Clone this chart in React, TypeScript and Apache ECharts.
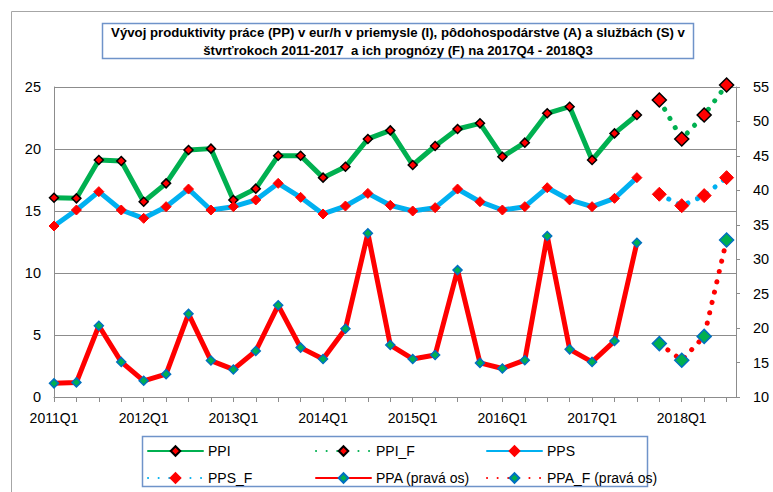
import React, { useEffect, useRef } from 'react';
import * as echarts from 'echarts';

const categories = [
  '2011Q1', '2011Q2', '2011Q3', '2011Q4',
  '2012Q1', '2012Q2', '2012Q3', '2012Q4',
  '2013Q1', '2013Q2', '2013Q3', '2013Q4',
  '2014Q1', '2014Q2', '2014Q3', '2014Q4',
  '2015Q1', '2015Q2', '2015Q3', '2015Q4',
  '2016Q1', '2016Q2', '2016Q3', '2016Q4',
  '2017Q1', '2017Q2', '2017Q3', '2017Q4',
  '2018Q1', '2018Q2', '2018Q3',
];

// actual values 2011Q1 - 2017Q3 (left axis)
const ppi = [16.07, 16.02, 19.11, 19.03, 15.75, 17.23, 19.92, 20.03, 15.89, 16.8, 19.46, 19.46, 17.69, 18.57, 20.81, 21.5, 18.71, 20.24, 21.61, 22.07, 19.38, 20.51, 22.88, 23.41, 19.11, 21.26, 22.74];
const pps = [13.79, 15.08, 16.56, 15.08, 14.41, 15.35, 16.77, 15.08, 15.35, 15.89, 17.23, 16.1, 14.76, 15.4, 16.42, 15.46, 15.0, 15.27, 16.77, 15.75, 15.08, 15.35, 16.88, 15.89, 15.35, 16.02, 17.69];
// right axis
const ppa = [11.98, 12.12, 20.34, 15.09, 12.35, 13.32, 22.07, 15.29, 14.0, 16.68, 23.31, 17.17, 15.52, 19.91, 33.76, 17.54, 15.52, 16.1, 28.42, 14.95, 14.14, 15.34, 33.37, 16.92, 15.09, 18.12, 32.4];

// forecasts 2017Q4 - 2018Q3
const forecastStart = 27;
const ppiF = [23.95, 20.81, 22.74, 25.16];
const ppsF = [16.35, 15.43, 16.24, 17.69];
const ppaF = [17.75, 15.34, 18.8, 32.79];

const leftTicks = { min: 0, max: 25, interval: 5 };
const rightTicks = { min: 10, max: 55, interval: 5 };

const GREEN = '#00B050';
const BLUE = '#00B0F0';
const RED = '#FF0000';
const DARKBLUE = '#0070C0';
const SANS = '"Liberation Sans", Arial, sans-serif';

const toPairs = (arr: number[], start: number) => arr.map((v, i) => [start + i, v]);

export default function App() {
  const ref = useRef<HTMLDivElement>(null);
  useEffect(() => {
    if (!ref.current) return;
    const chart = echarts.init(ref.current, null, { renderer: 'svg' });
    const dotted = [0.1, 10.5];
    const solidLine = (color: string) => ({ color, width: 5, cap: 'round' as const, join: 'round' as const });
    const dotLine = (color: string) => ({ color, width: 5, type: dotted, cap: 'round' as const });
    const legendPos = [
      { name: 'PPI', left: 147, top: 444 },
      { name: 'PPI_F', left: 315, top: 444 },
      { name: 'PPS', left: 486, top: 444 },
      { name: 'PPS_F', left: 147, top: 471 },
      { name: 'PPA (pravá os)', left: 315, top: 471 },
      { name: 'PPA_F (pravá os)', left: 486, top: 471 },
    ];
    chart.setOption({
      animation: false,
      backgroundColor: '#fff',
      grid: { left: 54, top: 87, width: 682, height: 310, containLabel: false },
      legend: legendPos.map((l) => ({
        data: [l.name],
        left: l.left,
        top: l.top,
        padding: 0,
        itemWidth: 55,
        itemHeight: 12,
        selectedMode: false,
        textStyle: { fontFamily: SANS, fontSize: 14, color: '#000' },
      })),
      graphic: [
        { type: 'rect', shape: { x: 11.5, y: 11.5, width: 900, height: 600 }, style: { fill: 'none', stroke: '#a6a6a6', lineWidth: 1 }, silent: true },
        { type: 'rect', shape: { x: 102.5, y: 23.5, width: 591, height: 35 }, style: { fill: '#fff', stroke: '#6f93c9', lineWidth: 1.5 }, silent: true },
        {
          type: 'text', x: 398, y: 41.5, silent: true,
          style: {
            text: 'Vývoj produktivity práce (PP) v eur/h v priemysle (I), pôdohospodárstve (A) a službách (S) v\nštvrťrokoch 2011-2017  a ich prognózy (F) na 2017Q4 - 2018Q3',
            fontFamily: SANS, fontSize: 13.2, fontWeight: 'bold', fill: '#000',
            align: 'center', verticalAlign: 'middle', lineHeight: 18,
          },
        },
        { type: 'rect', shape: { x: 142.5, y: 436.5, width: 505, height: 50 }, style: { fill: 'none', stroke: '#6f93c9', lineWidth: 1.5 }, silent: true, z: -1 },
      ],
      xAxis: {
        type: 'value',
        min: 0,
        max: 30.42,
        interval: 1,
        axisLine: { show: true, onZero: false, lineStyle: { color: '#8c8c8c', width: 1 } },
        axisTick: { show: true, length: 5, lineStyle: { color: '#8c8c8c' } },
        splitLine: { show: false },
        axisLabel: {
          margin: 14,
          color: '#000',
          fontFamily: SANS,
          fontSize: 14,
          showMaxLabel: false,
          formatter: (v: number) => (Number.isInteger(v) && v % 4 === 0 && categories[v] ? categories[v] : ''),
        },
      },
      yAxis: [
        {
          type: 'value',
          ...leftTicks,
          position: 'left',
          axisLine: { show: true, lineStyle: { color: '#8c8c8c' } },
          axisTick: { show: false },
          splitLine: { show: true, lineStyle: { color: '#8c8c8c', width: 1 } },
          axisLabel: { margin: 13, color: '#000', fontFamily: SANS, fontSize: 14.5 },
        },
        {
          type: 'value',
          ...rightTicks,
          position: 'right',
          axisLine: { show: true, lineStyle: { color: '#8c8c8c' } },
          axisTick: { show: true, length: 4, lineStyle: { color: '#8c8c8c' } },
          splitLine: { show: false },
          axisLabel: { margin: 17, color: '#000', fontFamily: SANS, fontSize: 14.5 },
        },
      ],
      series: [
        {
          name: 'PPI', type: 'line', yAxisIndex: 0, data: toPairs(ppi, 0), clip: false,
          lineStyle: solidLine(GREEN), symbol: 'diamond', symbolSize: 9, showAllSymbol: true,
          itemStyle: { color: RED, borderColor: '#000', borderWidth: 1.5 }, z: 3,
        },
        {
          name: 'PPI_F', type: 'line', yAxisIndex: 0, data: toPairs(ppiF, forecastStart), clip: false,
          lineStyle: dotLine(GREEN), symbol: 'diamond', symbolSize: 14,
          itemStyle: { color: RED, borderColor: '#000', borderWidth: 1.5 }, z: 3,
        },
        {
          name: 'PPS', type: 'line', yAxisIndex: 0, data: toPairs(pps, 0), clip: false,
          lineStyle: solidLine(BLUE), symbol: 'diamond', symbolSize: 10,
          itemStyle: { color: RED, borderColor: RED, borderWidth: 1 }, z: 3,
        },
        {
          name: 'PPS_F', type: 'line', yAxisIndex: 0, data: toPairs(ppsF, forecastStart), clip: false,
          lineStyle: dotLine(BLUE), symbol: 'diamond', symbolSize: 14,
          itemStyle: { color: RED, borderColor: RED, borderWidth: 1 }, z: 3,
        },
        {
          name: 'PPA (pravá os)', type: 'line', yAxisIndex: 1, data: toPairs(ppa, 0), clip: false,
          lineStyle: solidLine(RED), symbol: 'diamond', symbolSize: 9,
          itemStyle: { color: GREEN, borderColor: DARKBLUE, borderWidth: 1.5 }, z: 3,
        },
        {
          name: 'PPA_F (pravá os)', type: 'line', yAxisIndex: 1, data: toPairs(ppaF, forecastStart), clip: false,
          lineStyle: dotLine(RED), symbol: 'diamond', symbolSize: 14,
          itemStyle: { color: GREEN, borderColor: DARKBLUE, borderWidth: 1.5 }, z: 3,
        },
      ],
    });
    return () => chart.dispose();
  }, []);
  return <div ref={ref} style={{ position: 'fixed', left: 0, top: 0, width: 773, height: 492 }} />;
}
